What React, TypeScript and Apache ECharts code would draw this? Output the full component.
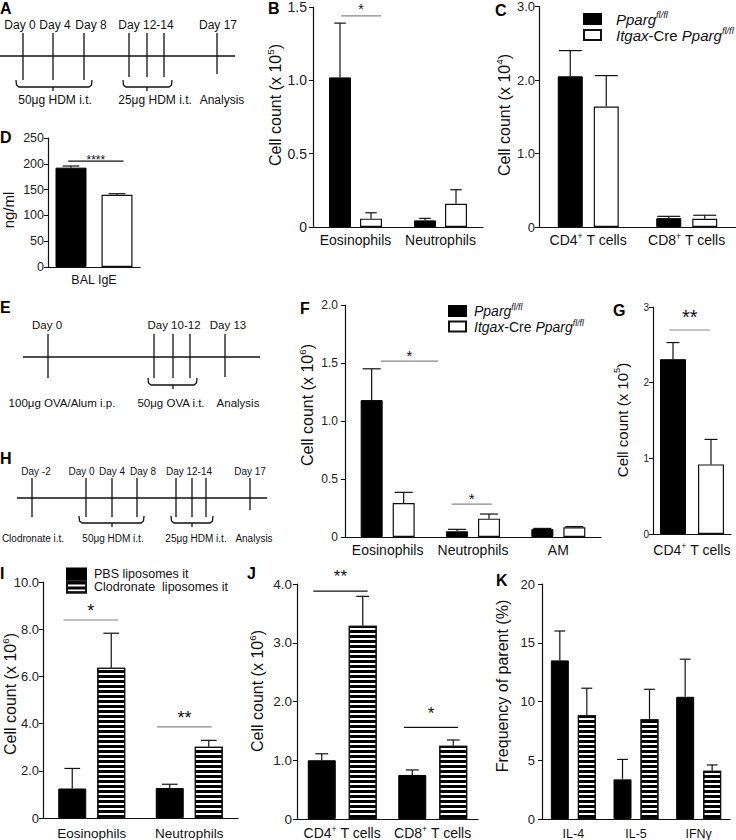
import React, { useEffect, useRef } from 'react';
import * as echarts from 'echarts';

const FONT = '"Liberation Sans", Arial, Helvetica, sans-serif';
const INK = '#111';

// ---------------- series names ----------------
const FLOX = 'Pparg fl/fl';
const CRE = 'Itgax-Cre Pparg fl/fl';
const PBS = 'PBS liposomes it';
const CLOD = 'Clodronate liposomes it';

// ---------------- data ----------------
// B
const bCategories = ['Eosinophils', 'Neutrophils'];
const bFlox = [1.02, 0.045];
const bFloxSem = [0.37, 0.014];
const bCre = [0.057, 0.159];
const bCreSem = [0.04, 0.095];
const bSig = [[0, -0.17, 0.3, 1.44]];
const bSigLabels = ['*'];

// C
const cCategories = ['CD4^{+} T cells', 'CD8^{+} T cells'];
const cFlox = [2.05, 0.12];
const cFloxSem = [0.35, 0.025];
const cCre = [1.64, 0.113];
const cCreSem = [0.42, 0.047];

// D
const dCategories = ['BAL IgE'];
const dFlox = [192.5];
const dFloxSem = [3.2];
const dCre = [140];
const dCreSem = [2];
const dSig = [[0, -0.28, 0.32, 205]];
const dSigLabels = ['****'];

// F
const fCategories = ['Eosinophils', 'Neutrophils', 'AM'];
const fFlox = [1.18, 0.049, 0.069];
const fFloxSem = [0.27, 0.017, 0.005];
const fCre = [0.293, 0.158, 0.084];
const fCreSem = [0.092, 0.04, 0.006];
const fSig = [[0, -0.08, 0.59, 1.517], [1, -0.25, 0.22, 0.284]];
const fSigLabels = ['*', '*'];

// G
const gCategories = ['CD4^{+} T cells'];
const gFlox = [2.31];
const gFloxSem = [0.22];
const gCre = [0.92];
const gCreSem = [0.33];
const gSig = [[0, -0.29, 0.23, 2.696]];
const gSigLabels = ['**'];

// I
const iCategories = ['Eosinophils', 'Neutrophils'];
const iPbs = [1.25, 1.27];
const iPbsSem = [0.85, 0.16];
const iClod = [6.37, 3.02];
const iClodSem = [1.46, 0.27];
const iSig = [[0, -0.29, 0.27, 8.39], [1, -0.33, 0.23, 3.86]];
const iSigLabels = ['*', '**'];

// J
const jCategories = ['CD4^{+} T cells', 'CD8^{+} T cells'];
const jPbs = [1.0, 0.75];
const jPbsSem = [0.11, 0.085];
const jClod = [3.29, 1.245];
const jClodSem = [0.5, 0.1];
const jSig = [[0, -0.32, 0.28, 3.88], [1, -0.32, 0.28, 1.56]];
const jSigLabels = ['**', '*'];

// K
const kCategories = ['IL-4', 'IL-5', 'IFNγ'];
const kPbs = [13.5, 3.37, 10.4];
const kPbsSem = [2.5, 1.7, 3.2];
const kClod = [8.83, 8.49, 4.1];
const kClodSem = [2.3, 2.55, 0.5];

// timelines (texts)
const aTopLabels = ['Day 0', 'Day 4', 'Day 8', 'Day 12-14', 'Day 17'];
const aBottomLabels = ['50μg HDM i.t.', '25μg HDM i.t.', 'Analysis'];
const eTopLabels = ['Day 0', 'Day 10-12', 'Day 13'];
const eBottomLabels = ['100μg OVA/Alum i.p.', '50μg OVA i.t.', 'Analysis'];
const hTopLabels = ['Day -2', 'Day 0', 'Day 4', 'Day 8', 'Day 12-14', 'Day 17'];
const hBottomLabels = ['Clodronate i.t.', '50μg HDM i.t.', '25μg HDM i.t.', 'Analysis'];

const yTitleTexts = [
  'Cell count (x 10^{5})',
  'Cell count (x 10^{4})',
  'ng/ml',
  'Cell count (x 10^{6})',
  'Cell count (x 10^{5})',
  'Cell count (x 10^{6})',
  'Cell count (x 10^{6})',
  'Frequency of parent (%)',
];
const panelLetters = ['A', 'B', 'C', 'D', 'E', 'F', 'G', 'H', 'I', 'J', 'K'];

// ---------------- layout / styles ----------------
const layout: any = {
  B: { left: 313, top: 6, width: 170, height: 221, max: 1.5, interval: 0.5, dec: 1, tickFs: 14, tickMargin: 6, catFs: 14, catMargin: 4, barWidth: 22, gap: 9, cap: 0.26, sigColor: '#888', sigFs: 14, sigGap: 10 },
  C: { left: 539, top: 6, width: 200, height: 221, max: 3, interval: 1, dec: 1, tickFs: 13, tickMargin: 4, catFs: 14, catMargin: 4, barWidth: 25, gap: 11, cap: 0.46 },
  D: { left: 48, top: 138, width: 92, height: 129, max: 250, interval: 50, dec: 0, tickFs: 12.5, tickMargin: 4, catFs: 12.5, catMargin: 4, barWidth: 31, gap: 15, cap: 0.27, sigColor: INK, sigFs: 12, sigGap: 4 },
  F: { left: 345, top: 305, width: 256, height: 232, max: 2, interval: 0.5, dec: 1, tickFs: 12, tickMargin: 7, catFs: 14, catMargin: 4, barWidth: 22, gap: 10, cap: 0.41, sigColor: '#888', sigFs: 15, sigGap: 9 },
  G: { left: 653, top: 307, width: 78, height: 227, max: 3, interval: 1, dec: 0, tickFs: 10, tickMargin: 4, catFs: 14, catMargin: 7, barWidth: 26, gap: 12, cap: 0.25, sigColor: '#888', sigFs: 20, sigGap: 17 },
  I: { left: 43, top: 582, width: 195, height: 236, max: 10, interval: 2, dec: 1, tickFs: 13, tickMargin: 4, catFs: 13.5, catMargin: 6, barWidth: 28, gap: 11, cap: 0.28, sigColor: '#888', sigFs: 18, sigGap: 13 },
  J: { left: 297, top: 584, width: 181, height: 236, max: 4, interval: 1, dec: 1, tickFs: 13.5, tickMargin: 5, catFs: 14, catMargin: 5, barWidth: 28, gap: 13, cap: 0.23, sigColor: INK, sigFs: 17, sigGap: 18 },
  K: { left: 542, top: 584, width: 188, height: 236, max: 20, interval: 5, dec: 0, tickFs: 13, tickMargin: 7, catFs: 12.5, catMargin: 6, barWidth: 18, gap: 9, cap: 0.3 },
};

const yTitlePos = [
  [275, 105, 16], [504, 115, 16], [8, 210, 15], [307, 405, 16],
  [622, 420, 15], [10, 694, 16], [257, 691, 16], [502, 686, 16],
];
const letterPos = [
  [0, 8], [268, 8], [495, 10], [0, 137], [0, 307], [300, 308],
  [613, 310], [0, 458], [0, 573], [247, 573], [496, 580],
];

const timelines = [
  {
    fs: 12, lineY: 56, x1: 0, x2: 235, topY: 25, bottomY: 100,
    ticks: [[23, 33, 80], [53, 33, 80], [84, 33, 80], [129, 33, 77], [147, 33, 77], [164, 33, 77], [217, 33, 74]],
    topX: [20, 55, 91, 146, 218], top: aTopLabels,
    braces: [[16, 92, 53, 87], [123, 172, 147, 87]],
    bottomX: [55, 155, 222], bottom: aBottomLabels,
  },
  {
    fs: 11.5, lineY: 357, x1: 23, x2: 260, topY: 325, bottomY: 403,
    ticks: [[48, 334, 378], [154, 334, 378], [173, 334, 378], [190, 334, 378], [225, 334, 377]],
    topX: [47, 174, 228], top: eTopLabels,
    braces: [[148, 197, 173, 385]],
    bottomX: [62, 171, 238], bottom: eBottomLabels,
  },
  {
    fs: 10, lineY: 498, x1: 17, x2: 267, topY: 471, bottomY: 538,
    ticks: [[32, 478, 517], [86, 478, 517], [112, 478, 517], [137, 478, 517], [176, 478, 517], [192, 478, 517], [206, 478, 517], [250, 478, 510]],
    topX: [36, 81.5, 112, 143, 189, 250], top: hTopLabels,
    braces: [[79, 144, 112, 523], [171, 213, 192, 523]],
    bottomX: [33, 113, 196, 254], bottom: hBottomLabels,
  },
];

const stripeDecal = {
  symbol: 'rect',
  symbolSize: 1,
  color: '#000',
  dashArrayX: [1, 0],
  dashArrayY: [3, 2],
  rotation: 0,
};

// ---------------- helpers ----------------
function richStyles(fs: number, lh?: number) {
  const lineH = lh ?? Math.round(fs + 4);
  const sfs = Math.round(fs * 0.62 * 10) / 10;
  const base: any = { fontSize: fs, fontFamily: FONT, color: INK, fill: INK, lineHeight: lineH };
  const sup: any = { fontSize: sfs, fontFamily: FONT, color: INK, fill: INK, lineHeight: sfs + 1, verticalAlign: 'top' };
  return { n: base, i: { ...base, fontStyle: 'italic' }, s: sup, si: { ...sup, fontStyle: 'italic' } };
}

function toRich(str: string) {
  const parts = str.split(/\^\{([^}]*)\}/);
  return parts.map((p, idx) => (p === '' ? '' : idx % 2 ? `{s|${p}}` : `{n|${p}}`)).join('');
}

const legendLabel: Record<string, string> = {
  [FLOX]: '{i|Pparg}{si|fl/fl}',
  [CRE]: '{i|Itgax}{n|-Cre }{i|Pparg}{si|fl/fl}',
  [PBS]: '{n|PBS liposomes it}',
  [CLOD]: '{n|Clodronate  liposomes it}',
};

function errSeries(gi: number, means: number[], sems: number[], offset: number, capHalf: number) {
  return {
    type: 'custom',
    xAxisIndex: gi,
    yAxisIndex: gi,
    z: 5,
    silent: true,
    clip: false,
    encode: { x: 0, y: 1 },
    data: means.map((m, i) => [i, m, sems[i]]),
    renderItem: (params: any, api: any) => {
      const i = api.value(0);
      const m = api.value(1);
      const s = api.value(2);
      const p0 = api.coord([i, m]);
      const p1 = api.coord([i, m + s]);
      const x = p0[0] + offset;
      const st = { stroke: INK, lineWidth: 1.2 };
      return {
        type: 'group',
        children: [
          { type: 'line', shape: { x1: x, y1: p0[1], x2: x, y2: p1[1] }, style: st },
          { type: 'line', shape: { x1: x - capHalf, y1: p1[1], x2: x + capHalf, y2: p1[1] }, style: st },
        ],
      };
    },
  };
}

function sigSeries(gi: number, sig: number[][], labels: string[], L: any) {
  return {
    type: 'custom',
    xAxisIndex: gi,
    yAxisIndex: gi,
    z: 6,
    silent: true,
    clip: false,
    encode: { x: 0, y: 3 },
    data: sig,
    renderItem: (params: any, api: any) => {
      const c = api.value(0);
      const from = api.value(1);
      const to = api.value(2);
      const y = api.value(3);
      const p = api.coord([c, y]);
      const band = api.size([1, 0])[0];
      const x1 = p[0] + from * band;
      const x2 = p[0] + to * band;
      return {
        type: 'group',
        children: [
          { type: 'line', shape: { x1, y1: p[1], x2, y2: p[1] }, style: { stroke: L.sigColor, lineWidth: 1.2 } },
          {
            type: 'text',
            x: (x1 + x2) / 2,
            y: p[1] - L.sigGap + 0.22 * L.sigFs,
            style: {
              text: labels[params.dataIndex],
              fontSize: L.sigFs,
              fontFamily: FONT,
              fill: INK,
              align: 'center',
              verticalAlign: 'middle',
            },
          },
        ],
      };
    },
  };
}

function buildOption() {
  const panels = [
    { L: layout.B, cats: bCategories, a: bFlox, aSem: bFloxSem, b: bCre, bSem: bCreSem, names: [FLOX, CRE], striped: false, sig: bSig, sigLabels: bSigLabels },
    { L: layout.C, cats: cCategories, a: cFlox, aSem: cFloxSem, b: cCre, bSem: cCreSem, names: [FLOX, CRE], striped: false },
    { L: layout.D, cats: dCategories, a: dFlox, aSem: dFloxSem, b: dCre, bSem: dCreSem, names: [FLOX, CRE], striped: false, sig: dSig, sigLabels: dSigLabels },
    { L: layout.F, cats: fCategories, a: fFlox, aSem: fFloxSem, b: fCre, bSem: fCreSem, names: [FLOX, CRE], striped: false, sig: fSig, sigLabels: fSigLabels },
    { L: layout.G, cats: gCategories, a: gFlox, aSem: gFloxSem, b: gCre, bSem: gCreSem, names: [FLOX, CRE], striped: false, sig: gSig, sigLabels: gSigLabels },
    { L: layout.I, cats: iCategories, a: iPbs, aSem: iPbsSem, b: iClod, bSem: iClodSem, names: [PBS, CLOD], striped: true, sig: iSig, sigLabels: iSigLabels },
    { L: layout.J, cats: jCategories, a: jPbs, aSem: jPbsSem, b: jClod, bSem: jClodSem, names: [PBS, CLOD], striped: true, sig: jSig, sigLabels: jSigLabels },
    { L: layout.K, cats: kCategories, a: kPbs, aSem: kPbsSem, b: kClod, bSem: kClodSem, names: [PBS, CLOD], striped: true },
  ];

  const grid: any[] = [];
  const xAxis: any[] = [];
  const yAxis: any[] = [];
  const series: any[] = [];

  panels.forEach((p: any, gi) => {
    const L = p.L;
    grid.push({ left: L.left, top: L.top, width: L.width, height: L.height, containLabel: false });
    xAxis.push({
      type: 'category',
      gridIndex: gi,
      data: p.cats,
      axisLine: { show: true, lineStyle: { color: INK, width: 1.2 } },
      axisTick: { show: false },
      axisLabel: {
        interval: 0,
        margin: L.catMargin,
        formatter: (v: string) => toRich(v),
        rich: richStyles(L.catFs),
      },
    });
    yAxis.push({
      type: 'value',
      gridIndex: gi,
      min: 0,
      max: L.max,
      interval: L.interval,
      axisLine: { show: true, lineStyle: { color: INK, width: 1.2 } },
      axisTick: { show: true, length: 4, lineStyle: { color: INK, width: 1 } },
      splitLine: { show: false },
      axisLabel: {
        fontSize: L.tickFs,
        fontFamily: FONT,
        color: '#222',
        margin: L.tickMargin,
        formatter: (v: number) => (v === 0 ? '0' : v.toFixed(L.dec)),
      },
    });
    const barGap = `${((L.gap / L.barWidth) * 100).toFixed(1)}%`;
    series.push({
      type: 'bar',
      name: p.names[0],
      xAxisIndex: gi,
      yAxisIndex: gi,
      data: p.a,
      barWidth: L.barWidth,
      barGap,
      itemStyle: { color: '#000', borderColor: '#000', borderWidth: 1 },
    });
    series.push({
      type: 'bar',
      name: p.names[1],
      xAxisIndex: gi,
      yAxisIndex: gi,
      data: p.b,
      barWidth: L.barWidth,
      barGap,
      itemStyle: p.striped
        ? { color: '#fff', borderColor: INK, borderWidth: 1.2, decal: stripeDecal }
        : { color: '#fff', borderColor: INK, borderWidth: 1.2 },
    });
    const off = (L.barWidth + L.gap) / 2;
    const capHalf = L.cap * L.barWidth;
    series.push(errSeries(gi, p.a, p.aSem, -off, capHalf));
    series.push(errSeries(gi, p.b, p.bSem, off, capHalf));
    if (p.sig) series.push(sigSeries(gi, p.sig, p.sigLabels, L));
  });

  const legendBase = {
    orient: 'vertical',
    padding: 0,
    itemGap: 0,
    icon: 'rect',
    selectedMode: false,
    formatter: (name: string) => legendLabel[name],
  };
  const legend = [
    { ...legendBase, left: 583, top: 10.5, itemWidth: 17, itemHeight: 10, data: [FLOX, CRE], textStyle: { rich: richStyles(15, 17), padding: [0, 0, 0, 10] } },
    { ...legendBase, left: 448, top: 302.5, itemWidth: 17, itemHeight: 10, data: [FLOX, CRE], textStyle: { rich: richStyles(14, 17), padding: [0, 0, 0, 3] } },
    { ...legendBase, left: 66, top: 567.5, itemWidth: 19, itemHeight: 11, data: [PBS, CLOD], textStyle: { rich: richStyles(12.5, 15), padding: [0, 0, 0, 3] } },
  ];

  const graphic: any[] = [];
  const lineEl = (x1: number, y1: number, x2: number, y2: number) => ({
    type: 'line',
    shape: { x1, y1, x2, y2 },
    style: { stroke: INK, lineWidth: 1.3 },
    silent: true,
  });
  const textEl = (text: string, x: number, y: number, fs: number) => ({
    type: 'text',
    x,
    y,
    silent: true,
    style: { text, fontSize: fs, fontFamily: FONT, fill: INK, align: 'center', verticalAlign: 'middle' },
  });

  timelines.forEach((t) => {
    graphic.push(lineEl(t.x1, t.lineY, t.x2, t.lineY));
    t.ticks.forEach(([x, y1, y2]) => graphic.push(lineEl(x, y1, x, y2)));
    t.top.forEach((txt, i) => graphic.push(textEl(txt, t.topX[i], t.topY, t.fs)));
    t.bottom.forEach((txt, i) => graphic.push(textEl(txt, t.bottomX[i], t.bottomY, t.fs)));
    t.braces.forEach(([x1, x2, mid, y]) => {
      graphic.push({
        type: 'polyline',
        silent: true,
        shape: { points: [[x1, y - 7], [x1 + 0.5, y - 2], [x1 + 3, y], [x2 - 3, y], [x2 - 0.5, y - 2], [x2, y - 7]] },
        style: { stroke: INK, lineWidth: 1.3, fill: 'none' },
      });
      graphic.push(lineEl(mid, y, mid, y + 4));
    });
  });

  yTitleTexts.forEach((txt, i) => {
    const [x, y, fs] = yTitlePos[i];
    graphic.push({
      type: 'text',
      x,
      y,
      rotation: Math.PI / 2,
      silent: true,
      style: {
        text: toRich(txt),
        rich: richStyles(fs),
        fontSize: fs,
        fontFamily: FONT,
        fill: INK,
        align: 'center',
        verticalAlign: 'middle',
      },
    });
  });

  panelLetters.forEach((letter, i) => {
    const [x, y] = letterPos[i];
    graphic.push({
      type: 'text',
      x,
      y,
      silent: true,
      style: { text: letter, fontSize: 16, fontWeight: 'bold', fontFamily: FONT, fill: '#000', align: 'left', verticalAlign: 'middle' },
    });
  });

  return {
    animation: false,
    backgroundColor: '#fff',
    textStyle: { fontFamily: FONT },
    grid,
    xAxis,
    yAxis,
    series,
    legend,
    graphic,
  };
}

export default function App() {
  const ref = useRef<HTMLDivElement>(null);
  useEffect(() => {
    if (!ref.current) return;
    const chart = echarts.init(ref.current, null, { renderer: 'svg' });
    chart.setOption(buildOption() as any);
    return () => chart.dispose();
  }, []);
  return (
    <div
      ref={ref}
      style={{ position: 'absolute', left: 0, top: 0, width: 736, height: 840, background: '#fff' }}
    />
  );
}
